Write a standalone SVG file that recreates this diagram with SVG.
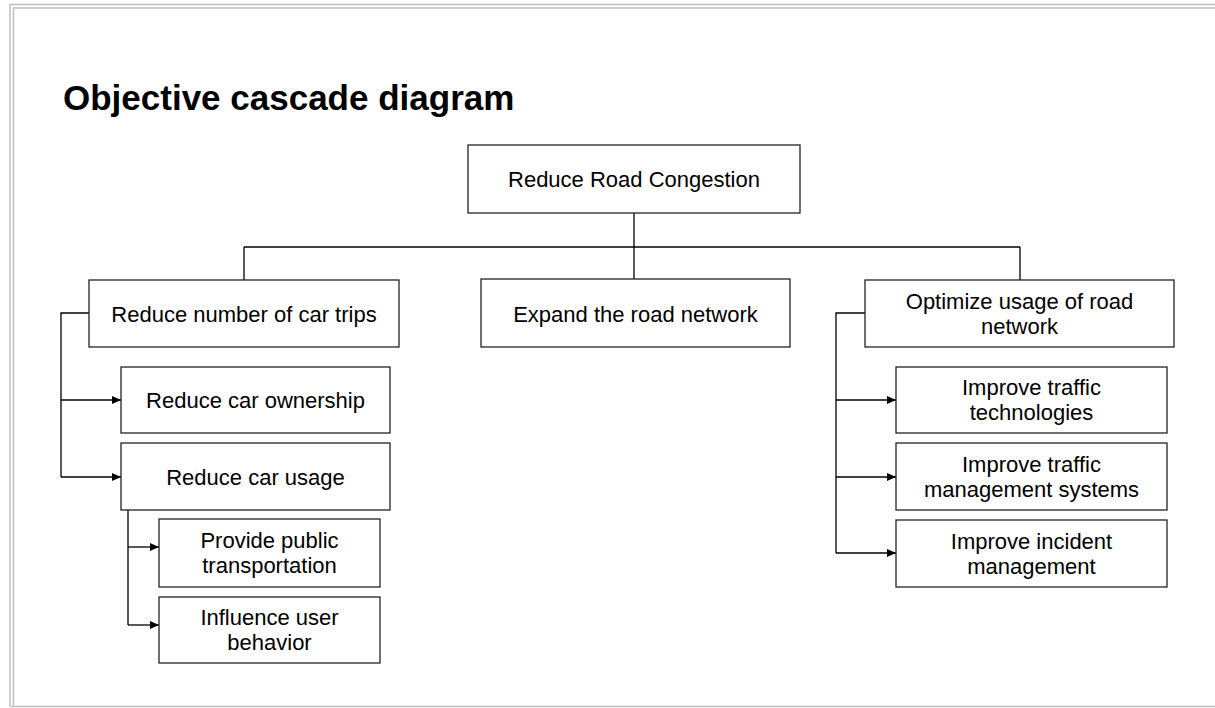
<svg xmlns="http://www.w3.org/2000/svg" width="1215" height="708" viewBox="0 0 1215 708">
<style>
.frame{fill:none;stroke:#c0c0c0;stroke-width:1.5}
.box{fill:#fff;stroke:#222;stroke-width:1.3}
.lbl{font-family:"Liberation Sans",Arial,sans-serif;font-size:22px;fill:#000;text-anchor:middle}
.title{font-family:"Liberation Sans",Arial,sans-serif;font-size:35px;font-weight:bold;fill:#000}
.con{fill:none;stroke:#000;stroke-width:1.3}
</style>
<defs>
<marker id="arr" viewBox="0 0 10 10" refX="10" refY="5" markerWidth="9" markerHeight="8" preserveAspectRatio="none" markerUnits="userSpaceOnUse" orient="auto">
<path d="M0,0 L10,5 L0,10 Z" fill="#000"/>
</marker>
</defs>
<rect width="1215" height="708" fill="#fff"/>
<path class="frame" d="M10,706 V4.5 H1215"/>
<path class="frame" d="M13.5,706 V8 H1215"/>
<path class="frame" d="M10,706.5 H1215"/>
<text class="title" x="63" y="110">Objective cascade diagram</text>
<g id="connectors">
<path class="con" d="M634,213 V279"/>
<path class="con" d="M244,247 H1020"/>
<path class="con" d="M244,247 V280"/>
<path class="con" d="M1020,247 V280"/>
<path class="con" d="M89,313 H61 V477"/>
<path class="con" d="M61,400 H121" marker-end="url(#arr)"/>
<path class="con" d="M61,477 H121" marker-end="url(#arr)"/>
<path class="con" d="M128,510 V625"/>
<path class="con" d="M128,547 H159" marker-end="url(#arr)"/>
<path class="con" d="M128,625 H159" marker-end="url(#arr)"/>
<path class="con" d="M865,313 H836 V553"/>
<path class="con" d="M836,400 H896" marker-end="url(#arr)"/>
<path class="con" d="M836,477 H896" marker-end="url(#arr)"/>
<path class="con" d="M836,553 H896" marker-end="url(#arr)"/>
</g>
<g id="n-root"><rect class="box" x="468" y="145" width="332" height="68"/><text class="lbl" x="634" y="187">Reduce Road Congestion</text></g>
<g id="n-trips"><rect class="box" x="89" y="280" width="310" height="67"/><text class="lbl" x="244" y="321.5">Reduce number of car trips</text></g>
<g id="n-expand"><rect class="box" x="481" y="279" width="309" height="68"/><text class="lbl" x="635.5" y="321.5">Expand the road network</text></g>
<g id="n-optimize"><rect class="box" x="865" y="280" width="309" height="67"/><text class="lbl" x="1019.5" y="308.5">Optimize usage of road</text><text class="lbl" x="1019.5" y="333.5">network</text></g>
<g id="n-ownership"><rect class="box" x="121" y="367" width="269" height="66"/><text class="lbl" x="255.5" y="408">Reduce car ownership</text></g>
<g id="n-usage"><rect class="box" x="121" y="443" width="269" height="67"/><text class="lbl" x="255.5" y="484.5">Reduce car usage</text></g>
<g id="n-public"><rect class="box" x="159" y="519" width="221" height="68"/><text class="lbl" x="269.5" y="548">Provide public</text><text class="lbl" x="269.5" y="573">transportation</text></g>
<g id="n-influence"><rect class="box" x="159" y="597" width="221" height="66"/><text class="lbl" x="269.5" y="625">Influence user</text><text class="lbl" x="269.5" y="650">behavior</text></g>
<g id="n-tech"><rect class="box" x="896" y="367" width="271" height="66"/><text class="lbl" x="1031.5" y="395">Improve traffic</text><text class="lbl" x="1031.5" y="420">technologies</text></g>
<g id="n-mgmt"><rect class="box" x="896" y="443" width="271" height="67"/><text class="lbl" x="1031.5" y="471.5">Improve traffic</text><text class="lbl" x="1031.5" y="496.5">management systems</text></g>
<g id="n-incident"><rect class="box" x="896" y="520" width="271" height="67"/><text class="lbl" x="1031.5" y="548.5">Improve incident</text><text class="lbl" x="1031.5" y="573.5">management</text></g>
</svg>
